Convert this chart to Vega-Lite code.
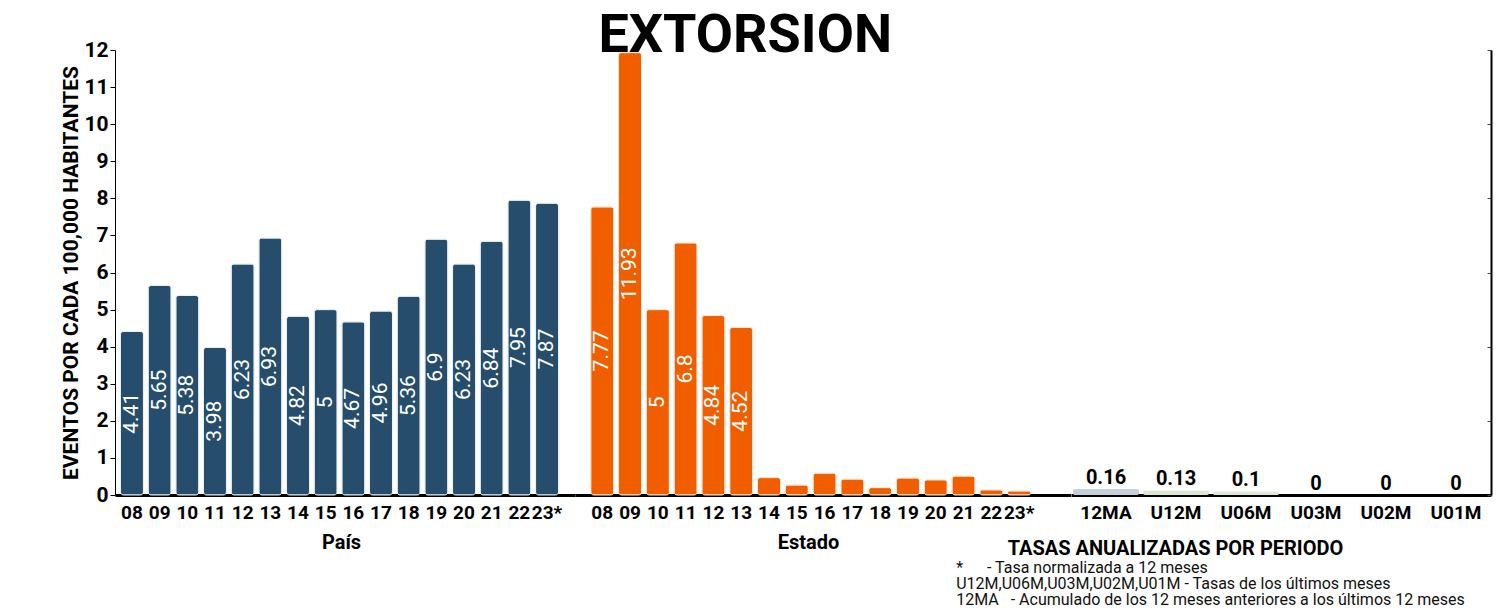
{
  "$schema": "https://vega.github.io/schema/vega-lite/v6.json",
  "background": "white",
  "padding": {"left": 60, "top": 9, "right": 10, "bottom": 2},
  "title": {"text": "EXTORSION", "fontSize": 54, "fontWeight": "bold", "color": "black", "anchor": "middle", "dx": -31, "baseline": "alphabetic", "offset": -67},
  "data": {"values": [
    {"grupo": "País", "periodo": "08", "valor": 4.41},
    {"grupo": "País", "periodo": "09", "valor": 5.65},
    {"grupo": "País", "periodo": "10", "valor": 5.38},
    {"grupo": "País", "periodo": "11", "valor": 3.98},
    {"grupo": "País", "periodo": "12", "valor": 6.23},
    {"grupo": "País", "periodo": "13", "valor": 6.93},
    {"grupo": "País", "periodo": "14", "valor": 4.82},
    {"grupo": "País", "periodo": "15", "valor": 5},
    {"grupo": "País", "periodo": "16", "valor": 4.67},
    {"grupo": "País", "periodo": "17", "valor": 4.96},
    {"grupo": "País", "periodo": "18", "valor": 5.36},
    {"grupo": "País", "periodo": "19", "valor": 6.9},
    {"grupo": "País", "periodo": "20", "valor": 6.23},
    {"grupo": "País", "periodo": "21", "valor": 6.84},
    {"grupo": "País", "periodo": "22", "valor": 7.95},
    {"grupo": "País", "periodo": "23*", "valor": 7.87},
    {"grupo": "Estado", "periodo": "08", "valor": 7.77},
    {"grupo": "Estado", "periodo": "09", "valor": 11.93},
    {"grupo": "Estado", "periodo": "10", "valor": 5},
    {"grupo": "Estado", "periodo": "11", "valor": 6.8},
    {"grupo": "Estado", "periodo": "12", "valor": 4.84},
    {"grupo": "Estado", "periodo": "13", "valor": 4.52},
    {"grupo": "Estado", "periodo": "14", "valor": 0.47},
    {"grupo": "Estado", "periodo": "15", "valor": 0.27},
    {"grupo": "Estado", "periodo": "16", "valor": 0.59},
    {"grupo": "Estado", "periodo": "17", "valor": 0.43},
    {"grupo": "Estado", "periodo": "18", "valor": 0.2},
    {"grupo": "Estado", "periodo": "19", "valor": 0.46},
    {"grupo": "Estado", "periodo": "20", "valor": 0.41},
    {"grupo": "Estado", "periodo": "21", "valor": 0.51},
    {"grupo": "Estado", "periodo": "22", "valor": 0.14},
    {"grupo": "Estado", "periodo": "23*", "valor": 0.11},
    {"grupo": "Tasas", "periodo": "12MA", "valor": 0.16},
    {"grupo": "Tasas", "periodo": "U12M", "valor": 0.13},
    {"grupo": "Tasas", "periodo": "U06M", "valor": 0.1},
    {"grupo": "Tasas", "periodo": "U03M", "valor": 0},
    {"grupo": "Tasas", "periodo": "U02M", "valor": 0},
    {"grupo": "Tasas", "periodo": "U01M", "valor": 0}
  ]},
  "spacing": 0,
  "bounds": "flush",
  "hconcat": [
    {
      "width": 460, "height": 445,
      "transform": [{"filter": "datum.grupo === 'País'"}],
      "layer": [
        {
          "mark": {"type": "bar", "color": "#264e6c", "cornerRadius": 3, "stroke": "#e6edf3", "strokeWidth": 1},
          "encoding": {
            "x": {"field": "periodo", "type": "ordinal", "sort": null,
                  "scale": {"paddingInner": 0.17, "paddingOuter": 0.397, "align": 0.25},
                  "axis": {"title": "País", "titleX": 226}},
            "y": {"field": "valor", "type": "quantitative", "scale": {"domain": [0, 12]},
                  "axis": {"title": "EVENTOS POR CADA 100,000 HABITANTES", "values": [0,1,2,3,4,5,6,7,8,9,10,11,12],
                           "grid": false, "tickSize": 5, "tickColor": "black", "domainColor": "black",
                           "labelFontSize": 21, "labelFontWeight": "bold", "labelColor": "black", "labelPadding": 2,
                           "titleFontSize": 21, "titleFontWeight": "bold", "titleColor": "black", "titlePadding": 2}}
          }
        },
        {
          "transform": [{"filter": "datum.valor >= 1"}],
          "mark": {"type": "text", "angle": 270, "color": "white", "fontSize": 21, "align": "center", "baseline": "middle"},
          "encoding": {
            "x": {"field": "periodo", "type": "ordinal", "sort": null},
            "y": {"field": "valor", "type": "quantitative", "scale": {"domain": [0, 24]}, "axis": null},
            "text": {"field": "valor", "type": "quantitative"}
          }
        }
      ],
      "resolve": {"scale": {"y": "independent"}}
    },
    {
      "width": 495.5, "height": 445,
      "transform": [{"filter": "datum.grupo === 'Estado'"}],
      "layer": [
        {
          "mark": {"type": "bar", "color": "#f05e00", "cornerRadius": 3, "stroke": "#fde6d6", "strokeWidth": 1},
          "encoding": {
            "x": {"field": "periodo", "type": "ordinal", "sort": null,
                  "scale": {"paddingInner": 0.17, "paddingOuter": 1.039, "align": 0.283},
                  "axis": {"title": "Estado", "titleX": 233}},
            "y": {"field": "valor", "type": "quantitative", "scale": {"domain": [0, 12]}, "axis": null}
          }
        },
        {
          "transform": [{"filter": "datum.valor >= 1"}],
          "mark": {"type": "text", "angle": 270, "color": "white", "fontSize": 21, "align": "center", "baseline": "middle"},
          "encoding": {
            "x": {"field": "periodo", "type": "ordinal", "sort": null},
            "y": {"field": "valor", "type": "quantitative", "scale": {"domain": [0, 24]}, "axis": null},
            "text": {"field": "valor", "type": "quantitative"}
          }
        }
      ],
      "resolve": {"scale": {"y": "independent"}}
    },
    {
      "width": 420, "height": 445,
      "title": {
        "text": [
          "\u00a0\u00a0\u00a0*\u00a0\u00a0\u00a0\u00a0\u00a0\u00a0- Tasa normalizada a 12 meses",
          "U12M,U06M,U03M,U02M,U01M - Tasas de los últimos meses",
          "12MA\u00a0\u00a0\u00a0- Acumulado de los 12 meses anteriores a los últimos 12 meses"
        ],
        "orient": "bottom", "anchor": "start", "align": "left", "dx": -51,
        "fontSize": 16, "fontWeight": "normal", "lineHeight": 16, "offset": 2, "color": "#111"
      },
      "transform": [{"filter": "datum.grupo === 'Tasas'"}],
      "layer": [
        {
          "mark": {"type": "bar", "cornerRadius": 2},
          "encoding": {
            "x": {"field": "periodo", "type": "ordinal", "sort": null,
                  "scale": {"paddingInner": 0.057, "paddingOuter": 0.0285, "align": 0.5},
                  "axis": {"title": "TASAS ANUALIZADAS POR PERIODO", "titleX": 104, "titlePadding": 16}},
            "y": {"field": "valor", "type": "quantitative", "scale": {"domain": [0, 12]},
                  "axis": {"orient": "right", "title": null, "labels": false, "grid": false,
                           "values": [0,1,2,3,4,5,6,7,8,9,10,11,12], "tickSize": -4, "tickColor": "#444",
                           "domainColor": "black", "domainWidth": 2}},
            "color": {"field": "periodo", "type": "nominal", "legend": null,
                      "scale": {"domain": ["12MA", "U12M", "U06M", "U03M", "U02M", "U01M"],
                                "range": ["#c3cfd9", "#dcebcf", "#dcebcf", "#dcebcf", "#dcebcf", "#dcebcf"]}}
          }
        },
        {
          "mark": {"type": "text", "color": "black", "fontSize": 20, "fontWeight": "bold", "baseline": "alphabetic", "dy": -5},
          "encoding": {
            "x": {"field": "periodo", "type": "ordinal", "sort": null},
            "y": {"field": "valor", "type": "quantitative", "scale": {"domain": [0, 12]}},
            "text": {"field": "valor", "type": "quantitative"}
          }
        }
      ]
    }
  ],
  "config": {
    "font": "Roboto",
    "view": {"stroke": null},
    "axisX": {"domainColor": "black", "domainWidth": 3, "ticks": false, "labelAngle": 0,
              "labelFontSize": 19, "labelFontWeight": "bold", "labelColor": "black", "labelPadding": 8,
              "labelOverlap": false, "titleFontSize": 20, "titleFontWeight": "bold", "titleColor": "black", "titlePadding": 10}
  }
}
